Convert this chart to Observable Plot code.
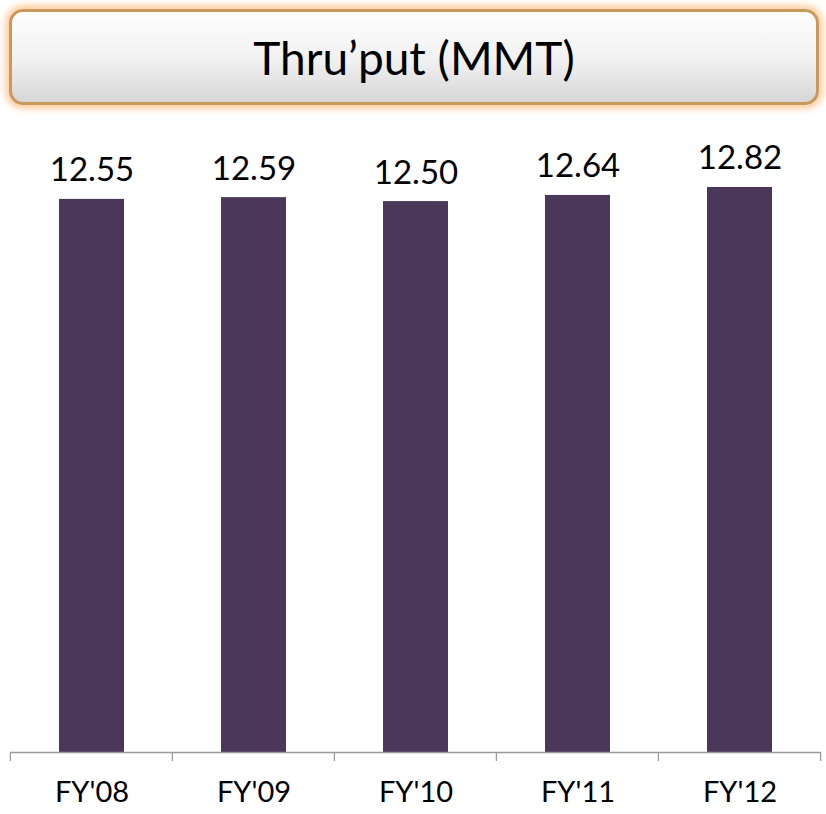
<!DOCTYPE html>
<html>
<head>
<meta charset="utf-8">
<script src="https://cdn.jsdelivr.net/npm/d3@7"></script>
<script src="https://cdn.jsdelivr.net/npm/@observablehq/plot@0.6"></script>
<style>
  html, body { margin: 0; padding: 0; background: #ffffff; }
  body { width: 826px; height: 814px; overflow: hidden; font-family: Lato, "Open Sans", sans-serif; }
  #title {
    position: absolute; left: 9px; top: 9px; width: 804px; height: 90px;
    border: 3px solid #c79a5c; border-radius: 14px;
    background: linear-gradient(#fefefe 0%, #f0f0f0 55%, #d6d6d6 100%);
    box-shadow: 0 0 6px 4px rgba(255, 180, 110, 0.65);
    display: flex; align-items: center; justify-content: center;
    font-size: 46px; color: #000; font-family: Lato, sans-serif;
  }
  #chart { position: absolute; left: 0; top: 120px; }
</style>
</head>
<body>
<div id="title">Thru’put (MMT)</div>
<div id="chart"></div>
<script>
const categories = ["FY'08", "FY'09", "FY'10", "FY'11", "FY'12"];
const values = [12.55, 12.59, 12.50, 12.64, 12.82];
const valueLabels = ["12.55", "12.59", "12.50", "12.64", "12.82"];

const data = categories.map((c, i) => ({cat: c, value: values[i], label: valueLabels[i]}));

const bandTicks = (index, scales, values, dims) => {
  const x = scales.x;
  const step = (dims.width - dims.marginLeft - dims.marginRight) / categories.length;
  const y0 = scales.y(0);
  const g = d3.create("svg:g").attr("stroke", "#9a9a9a").attr("stroke-width", 1.3);
  const xs = categories.map(c => x(c) + x.bandwidth() / 2 - step / 2);
  xs.push(x(categories[categories.length - 1]) + x.bandwidth() / 2 + step / 2);
  for (const px of xs) {
    g.append("line").attr("x1", px).attr("x2", px).attr("y1", y0).attr("y2", y0 + 9);
  }
  return g.node();
};

const plot = Plot.plot({
  width: 826,
  height: 694,
  marginTop: 0,
  marginBottom: 62,
  marginLeft: 10,
  marginRight: 5,
  style: {fontFamily: "Lato, sans-serif", background: "transparent"},
  x: {domain: categories, paddingInner: 0.6, paddingOuter: 0.3, axis: null},
  y: {domain: [0, 14.34], axis: null},
  marks: [
    Plot.barY(data, {x: "cat", y: "value", fill: "#4a3759"}),
    Plot.ruleY([0], {stroke: "#9a9a9a", strokeWidth: 1.3}),
    bandTicks,
    Plot.text(data, {x: "cat", y: "value", text: "label", lineAnchor: "bottom", dy: -18, fontSize: 33, fill: "#000"}),
    Plot.text(categories, {x: d => d, frameAnchor: "bottom", lineAnchor: "bottom", dy: 49, fontSize: 29, fill: "#000"})
  ]
});
document.getElementById("chart").appendChild(plot);
</script>
</body>
</html>
